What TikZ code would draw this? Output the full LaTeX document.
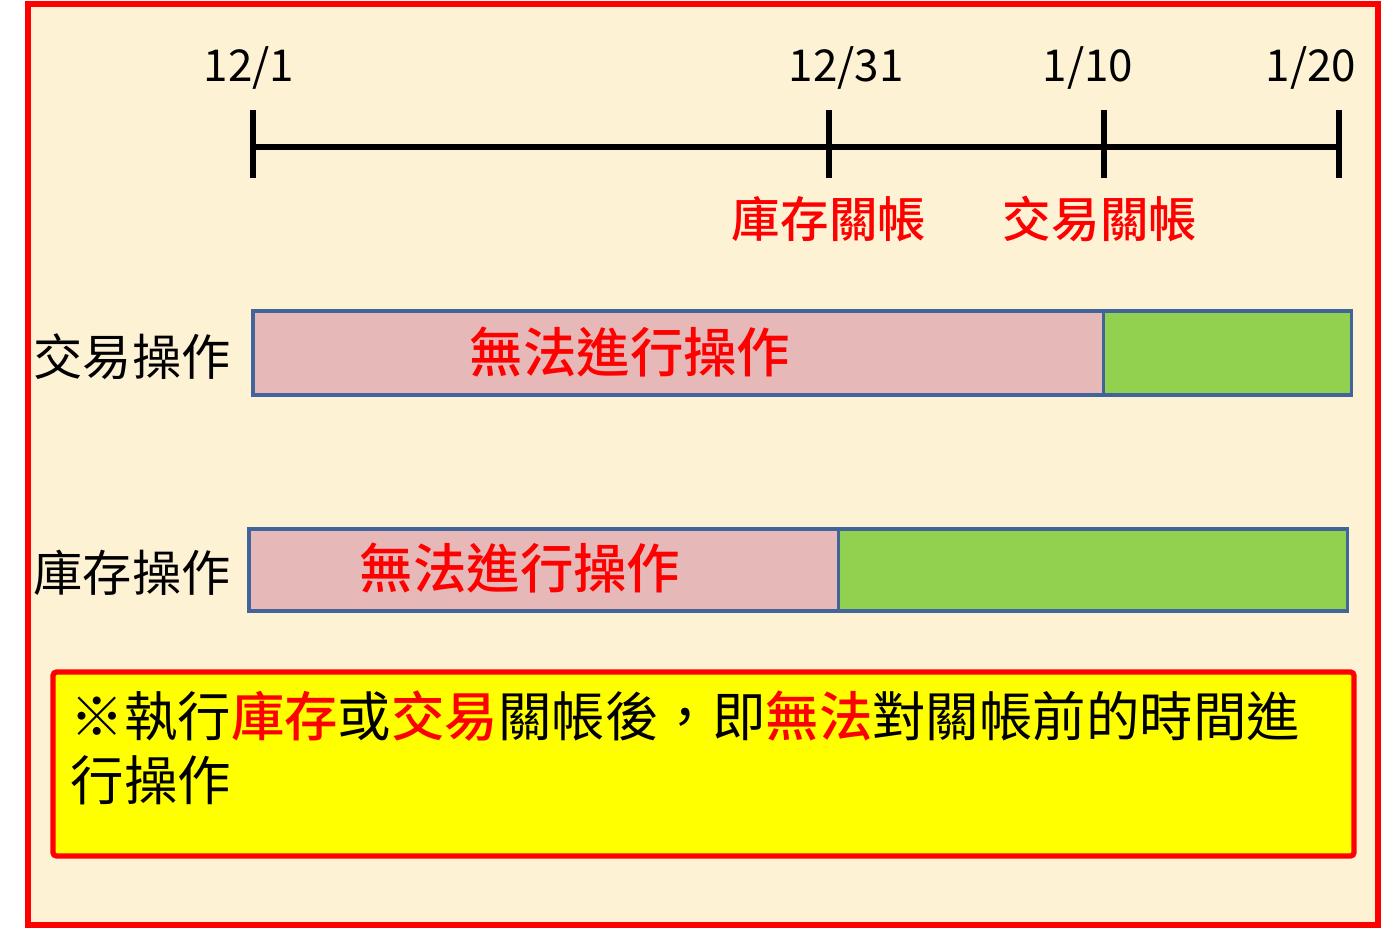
\documentclass[tikz,border=0pt]{standalone}
\usepackage{fontspec}
\setmainfont{Noto Sans CJK TC}[BoldFont={Noto Sans CJK TC Medium}]
\usetikzlibrary{positioning}
\definecolor{Cream}{HTML}{FEF2D5}
\definecolor{BarBlue}{HTML}{41649A}
\definecolor{BlockPink}{HTML}{E6B8B7}
\definecolor{OpenGreen}{HTML}{92D050}
\definecolor{NoteYellow}{HTML}{FFFF00}

\begin{document}
\begin{tikzpicture}[
    x=0.01cm, y=-0.01cm,
    font=\fontsize{15}{18}\selectfont,
    axis/.style={line width=1.5pt, black},
    datelabel/.style={font=\fontsize{12.5}{15}\selectfont, inner sep=0pt},
    closelabel/.style={text=red, font=\fontsize{13.8}{16}\selectfont\bfseries, inner sep=0pt},
    rowlabel/.style={font=\fontsize{14}{16}\selectfont, inner sep=0pt, anchor=west},
    bar/.style={draw=BarBlue, line width=0.9pt, anchor=north west, inner sep=0pt, outer sep=0pt, minimum height=0.84cm},
    blocked/.style={text=red, font=\fontsize{15.2}{18}\selectfont\bfseries, inner sep=0pt},
]
\useasboundingbox (0,0) rectangle (1382,929);

% ---- frame ----
\draw[red, line width=1.5pt, fill=Cream] (28,4) rectangle (1378,925);

% ---- timeline ----
\coordinate (d1) at (253,147);
\coordinate (d2) at (829,147);
\coordinate (d3) at (1104,147);
\coordinate (d4) at (1339,147);
\draw[axis] (d1) -- (d4);
\foreach \t in {d1,d2,d3,d4} \draw[axis] (\t) ++(0,-37) -- ++(0,68);

\node[datelabel] (l1) at (249,68) {12/1};
\node[datelabel] (l2) at (846,68) {12/31};
\node[datelabel] (l3) at (1088,68) {1/10};
\node[datelabel] (l4) at (1311,68) {1/20};

\node[closelabel] (stockclose) at (829,219) {庫存關帳};
\node[closelabel] (tradeclose) at (1100,219) {交易關帳};

% ---- 交易操作 ----
\node[rowlabel] (traderow) at (33,357) {交易操作};
\node[bar, fill=BlockPink, minimum width=8.50cm] (tradeblock) at (253,311) {};
\node[bar, fill=OpenGreen, minimum width=2.48cm] (tradeopen) at (tradeblock.north east) {};
\node[blocked] at (630,352) {無法進行操作};

% ---- 庫存操作 ----
\node[rowlabel] (stockrow) at (33,573) {庫存操作};
\node[bar, fill=BlockPink, minimum width=5.89cm, minimum height=0.82cm] (stockblock) at (249,529) {};
\node[bar, fill=OpenGreen, minimum width=5.09cm, minimum height=0.82cm] (stockopen) at (stockblock.north east) {};
\node[blocked] at (520,568) {無法進行操作};

% ---- note ----
\draw[red, line width=1.5pt, fill=NoteYellow, rounded corners=1pt] (53,672) rectangle (1354,856);
\node[anchor=north west, align=left, inner sep=0pt, font=\fontsize{15.2}{18.2}\selectfont] (note) at (70,690)
    {※執行{\color{red}\bfseries 庫存}或{\color{red}\bfseries 交易}關帳後，即{\color{red}\bfseries 無法}對關帳前的時間進\\行操作};

\end{tikzpicture}
\end{document}
